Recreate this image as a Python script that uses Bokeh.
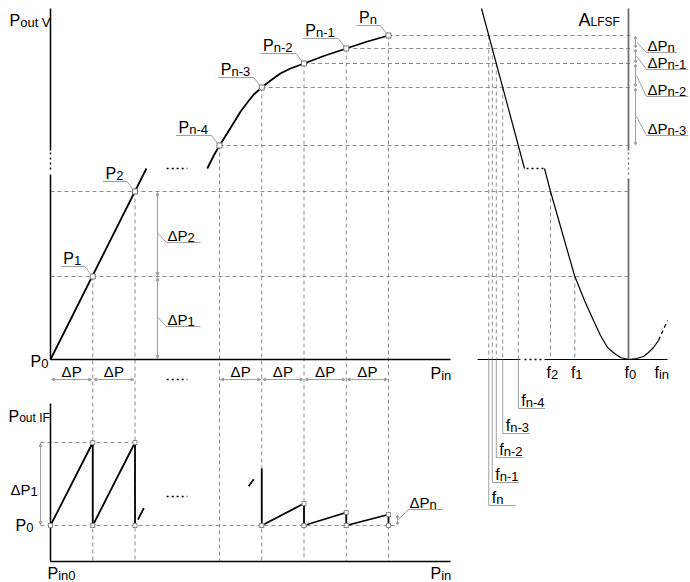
import numpy as np
from bokeh.plotting import figure
from bokeh.models import Range1d, Arrow, NormalHead
from bokeh.core.properties import value
from bokeh.embed import file_html
from bokeh.resources import INLINE

FONT = "Liberation Sans"

# ---------------- data ----------------
# transfer characteristic P_out V (P_in): marked points
pt_sub = ["1", "2", "n-4", "n-3", "n-2", "n-1", "n"]
pt_step = [1, 2, 4, 5, 6, 7, 8]                      # P_in in steps of ΔP from P_in0
pt_pout = [83, 168, 214, 272, 296, 311, 324]         # P_out V above P0
# linear and saturating parts of the curve
lin_step = [0, 2.27]
lin_pout = [0, 191]
sat_step = [3.71, 3.865, 4.0, 4.18, 4.34, 4.5, 4.66, 4.81, 5.0, 5.21, 5.44, 5.68, 6.0, 6.5, 7.0, 7.5, 8.0]
sat_pout = [191, 204, 214, 226, 237, 248, 257, 265, 272, 279, 286, 291, 296, 304, 311, 318, 324]
# ΔP intervals marked under the P_in axis
dp_intervals = [(0, 1), (1, 2), (4, 5), (5, 6), (6, 7), (7, 8)]

# IF output: sawtooth teeth (end step, rise)
tooth_end = [1, 2, 6, 7, 8]
tooth_rise = [83, 83, 22, 13, 11]
tooth_n3_rise = 57

# LFSF characteristic A(f)
steep_f = [481, 524]
steep_a = [351, 191]
lfsf_f = [544, 550, 562, 574, 584, 593, 600, 607, 614, 620, 628, 636, 643, 648, 653, 658]
lfsf_a = [191, 168, 126, 84, 59, 39, 24, 12, 6, 2, 0, 1, 3, 7, 12, 19]
lfsf_tail_f = [658, 667]
lfsf_tail_a = [19, 39]

# ---------------- layout (diagram pixels) ----------------
X0, DPX, Y0, YIF, XA, YBOT = 50.0, 42.25, 359.0, 525.0, 628.0, 561.0
W, H = 690, 582
TEXT_DY = -4.5   # compensates the renderer's baseline placement

GRID = "#8c8c8c"
LEAD = "#a0a0a0"


def X(s):
    return X0 + DPX * np.asarray(s, dtype=float)


def Y(a):
    return Y0 - np.asarray(a, dtype=float)


def YI(r):
    return YIF - np.asarray(r, dtype=float)


p = figure(width=W, height=H, x_range=Range1d(0, W), y_range=Range1d(H, 0),
           output_backend="svg", toolbar_location=None, min_border=0,
           x_axis_location=None, y_axis_location=None)
p.grid.visible = False
p.outline_line_color = None
p.background_fill_color = "white"


def seg(xs, ys, color="black", width=1.0, dash="solid"):
    p.line(list(map(float, xs)), list(map(float, ys)), line_color=color, line_width=width, line_dash=dash)


def dline(xs, ys):
    seg(xs, ys, GRID, 1, "4 3")


def lead(xs, ys):
    seg(xs, ys, LEAD, 1)


def dotted(xs, ys, color="black"):
    seg(xs, ys, color, 1.4, "2 3")


ADV = {"P": 0.667, "Δ": 0.668, "f": 0.278, "A": 0.667}


def sub_w(sub, ssize):
    return (0.556 * sum(1 for c in sub if c not in "- ") + 0.333 * sub.count("-") + 0.278 * sub.count(" ")) * ssize


def label(x, y, main, sub="", size=16, ssize=13, align="left", sdy=2):
    wmain = sum(ADV.get(c, 0.6) for c in main) * size
    if align == "center":
        x = x - (wmain + sub_w(sub, ssize)) / 2
    y = y + TEXT_DY
    p.text([x], [y], text=[main], text_font=value(FONT), text_font_size=f"{size}px",
           text_baseline="alphabetic", text_align="left", text_color="black")
    if sub:
        p.text([x + wmain], [y + sdy], text=[sub], text_font=value(FONT),
               text_font_size=f"{ssize}px", text_baseline="alphabetic", text_align="left",
               text_color="black")


def darrow(x1, y1, x2, y2, size=3):
    p.add_layout(Arrow(x_start=x1, y_start=y1, x_end=x2, y_end=y2,
                       start=NormalHead(size=size, line_color=LEAD, fill_color=LEAD, line_width=1),
                       end=NormalHead(size=size, line_color=LEAD, fill_color=LEAD, line_width=1),
                       line_color=LEAD, line_width=1))


px = X(pt_step)
py = Y(pt_pout)

# ---------------- grid (dashed) ----------------
for s, x, y in zip(pt_step, px, py):
    if s <= 2:
        dline([X0, XA], [y, y])
    else:
        dline([x, XA + 4], [y, y])
    dline([x, x], [y, YBOT])

# intersections with the steep branch of the LFSF (f_n ... f_n-4)
far_pts = list(range(len(pt_step) - 1, 1, -1))
f_x = {}
for i in far_pts:
    xf = float(np.interp(pt_pout[i], steep_a[::-1], steep_f[::-1]))
    f_x[i] = xf
    dline([xf, xf], [py[i], Y0])

imin = int(np.argmin(lfsf_a))
desc_a = np.array(lfsf_a[:imin + 1])[::-1]
desc_f = np.array(lfsf_f[:imin + 1])[::-1]
f12 = []
for i in [1, 0]:
    xf = float(np.interp(pt_pout[i], desc_a, desc_f))
    f12.append(xf)
    dline([xf, xf], [py[i], Y0])

# IF reference levels
dline([40, 395], [YIF, YIF])
dline([40, X(2)], [YI(tooth_rise[0])] * 2)

# ---------------- axes ----------------
seg([X0, X0], [8, 150], "black", 1.5)
dotted([X0, X0], [152, 172])
seg([X0, X0], [174, Y0], "black", 1.5)
seg([X0, 450], [Y0, Y0], "black", 1.3)

seg([X0, X0], [403, YBOT], "black", 1.5)
seg([X0, 450], [YBOT, YBOT], "black", 1.3)

seg([XA, XA], [8, 150], "#707070", 1.8)
dotted([XA, XA], [152, 176], "#707070")
seg([XA, XA], [178, Y0], "#707070", 1.8)
seg([477, 520], [Y0, Y0], "black", 1.2)
dotted([524, 541], [Y0, Y0])
seg([544, 667], [Y0, Y0], "black", 1.2)

# ---------------- curves ----------------
seg(X(lin_step), Y(lin_pout), "black", 1.8)
seg(X(sat_step), Y(sat_pout), "black", 1.8)
dotted(X([2.75, 3.24]), Y([191, 191]))

seg(steep_f, Y(steep_a), "black", 1.2)
dotted([526, 543], Y([191, 191]))
seg(lfsf_f, Y(lfsf_a), "black", 1.2)
seg(lfsf_tail_f, Y(lfsf_tail_a), "black", 1.2, "4 3")

# IF sawtooth
mk_x, mk_y = [X0], [YIF]
for e, r in zip(tooth_end, tooth_rise):
    xs, xe = float(X(e - 1)), float(X(e))
    seg([xs, xe, xe], [YIF, YI(r), YIF], "black", 1.8)
    mk_x += [xs, xe, xe]
    mk_y += [YIF, float(YI(r)), YIF]
# partial teeth
for e, r, t0, t1 in [(3, tooth_rise[1], 0.07, 0.21), (5, tooth_n3_rise, 0.69, 0.81)]:
    xs, xe = float(X(e - 1)), float(X(e))
    seg([xs + t0 * (xe - xs), xs + t1 * (xe - xs)], [YI(r * t0), YI(r * t1)], "black", 1.8)
xe5 = float(X(5))
seg([xe5, xe5], [YI(tooth_n3_rise), YIF], "black", 1.8)
mk_x += [xe5]
mk_y += [YIF]
dotted(X([2.75, 3.24]), [496, 496])

# markers
p.scatter(list(px), list(py), marker="square", size=5, fill_color="white", line_color="#777777", line_width=1)
p.scatter(mk_x, mk_y, marker="square", size=4, fill_color="white", line_color="#888888", line_width=1)

# ---------------- point labels ----------------
for sub, x, y in zip(pt_sub, px, py):
    ulw = 10.7 + sub_w(sub, 13) + 6
    ul_end = x - 8
    ul_y = y - 10
    lead([ul_end - ulw, ul_end, x - 1.5], [ul_y, ul_y, y - 1.5])
    label(ul_end - ulw + 2.5, ul_y - 3.5, "P", sub)

label(9, 24, "P", "out V", size=16, ssize=13)
label(30, 365, "P", "0", size=16, ssize=13)
label(430, 377, "P", "in", size=16, ssize=13)

# ΔP under the P_in axis
for a, b in dp_intervals:
    xa, xb = float(X(a)), float(X(b))
    darrow(xa + 1, 379, xb - 1, 379)
    label((xa + xb) / 2, 375, "ΔP", size=15, align="center")
dotted(X([2.75, 3.24]), [379, 379])

# ΔP1, ΔP2 bracket
lv = [0, pt_pout[0], pt_pout[1]]
for k in range(2):
    y1, y2 = float(Y(lv[k])), float(Y(lv[k + 1]))
    darrow(157, y1 - 1, 157, y2 + 1)
    mid = (y1 + y2) / 2
    ul = mid + 8.5
    lead([157, 166, 200], [mid - 1, ul, ul])
    label(167, ul - 3, "ΔP", str(k + 1), size=15, ssize=13)

# right ΔP bracket
right_sub = ["n", "n-1", "n-2", "n-3"]
right_ul = [52, 69, 96, 135]
for j, (sub, ul) in enumerate(zip(right_sub, right_ul)):
    i = len(pt_step) - 1 - j
    y1, y2 = float(py[i]), float(py[i - 1])
    darrow(635, y1 + 0.5, 635, y2 - 0.5, size=2.5)
    mid = (y1 + y2) / 2
    lead([636, 646, min(689, 646 + 20 + sub_w(sub, 13) + 3)], [mid, ul, ul])
    label(647, ul - 3, "ΔP", sub, size=15, ssize=13)

# A_LFSF
label(578, 24, "A", "LFSF", size=18, ssize=12, sdy=2)

# f labels below the f axis (f_n ... f_n-4)
f_label_y = [505, 482, 457, 433, 408]
for i, yl in zip(far_pts, f_label_y):
    xf = f_x[i]
    lead([xf, xf, xf + 27], [Y0, yl, yl])
    label(xf + 3, yl - 3.5, "f", pt_sub[i], size=16, ssize=13, sdy=2)

for xf, sub in zip(f12, ["2", "1"]):
    label(xf - 4, 376, "f", sub, size=16, ssize=13)
label(lfsf_f[imin] - 4, 376, "f", "0", size=16, ssize=13)
label(654, 376, "f", "in", size=16, ssize=13)

# ---------------- IF panel labels ----------------
label(8, 420, "P", "out IF", size=16, ssize=12)
darrow(40, YI(tooth_rise[0]) + 1, 40, YIF - 1)
label(10, 493, "ΔP", "1", size=15, ssize=13)
label(15, 529, "P", "0", size=16, ssize=13)
label(47, 577, "P", "in0", size=16, ssize=13)
label(430, 577, "P", "in", size=16, ssize=13)

ylast = float(YI(tooth_rise[-1]))
darrow(397, ylast + 0.5, 397, YIF - 0.5, size=2.5)
lead([397, 408, 442], [520, 509, 509])
label(409, 506, "ΔP", "n", size=15, ssize=13)

open("out.html", "w").write(file_html(p, INLINE))
